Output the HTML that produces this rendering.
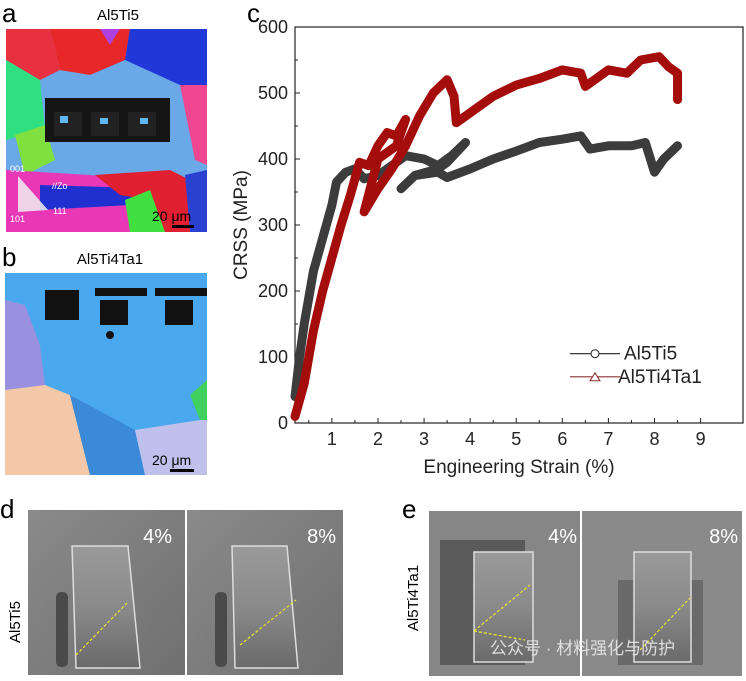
<!DOCTYPE html>
<html><head><meta charset="utf-8"><style>
body{margin:0;background:#fff;width:746px;height:681px;overflow:hidden;font-family:"Liberation Sans","Noto Sans CJK SC",sans-serif}
svg{position:absolute;left:0;top:0}
</style></head><body>
<svg width="746" height="681" viewBox="0 0 746 681">
<defs>
<linearGradient id="sem" x1="0" y1="0" x2="1" y2="1"><stop offset="0" stop-color="#8a8a8a"/><stop offset="1" stop-color="#707070"/></linearGradient>
<linearGradient id="pil" x1="0" y1="0" x2="0" y2="1"><stop offset="0" stop-color="#9a9a9a"/><stop offset="0.5" stop-color="#8a8a8a"/><stop offset="1" stop-color="#6a6a6a"/></linearGradient>
</defs>
<g>
<text x="2" y="22" font-size="26">a</text>
<text x="118" y="20" font-size="15" text-anchor="middle">Al5Ti5</text>
<rect x="6" y="29" width="201" height="203" fill="#6aa8e8"/>
<polygon points="6,29 50,29 60,70 40,80 6,60" fill="#e83040"/>
<polygon points="50,29 130,29 125,60 90,75 60,70" fill="#e82828"/>
<polygon points="130,29 207,29 207,85 180,85 125,60" fill="#2038d8"/>
<polygon points="100,29 120,29 110,45" fill="#b040e0"/>
<polygon points="6,60 40,80 45,130 6,140" fill="#30e080"/>
<polygon points="180,85 207,85 207,165 195,160" fill="#f04890"/>
<polygon points="15,135 45,125 55,160 25,175" fill="#80e040"/>
<polygon points="6,170 90,175 140,180 160,190 130,232 6,232" fill="#e838b8"/>
<polygon points="40,185 140,188 130,205 40,210" fill="#2030d0"/>
<polygon points="95,175 170,170 200,185 207,232 160,232 150,200 120,195" fill="#e02030"/>
<polygon points="125,200 150,190 165,232 130,232" fill="#40e040"/>
<polygon points="185,175 207,170 207,232 190,232" fill="#2a40d0"/>
<rect x="45" y="98" width="125" height="44" fill="#151515"/>
<rect x="54" y="112" width="28" height="24" fill="#222"/><rect x="60" y="116" width="8" height="7" fill="#60b8f0"/>
<rect x="91" y="112" width="28" height="24" fill="#222"/><rect x="100" y="118" width="8" height="6" fill="#60b8f0"/>
<rect x="128" y="112" width="28" height="24" fill="#222"/><rect x="140" y="118" width="8" height="6" fill="#60b8f0"/>
<polygon points="18,176 18,212 48,210" fill="#f0f0f0" opacity="0.85"/>
<text x="10" y="172" font-size="9" fill="#fff">001</text>
<text x="10" y="222" font-size="9" fill="#fff">101</text>
<text x="53" y="214" font-size="9" fill="#fff">111</text>
<text x="52" y="189" font-size="9" fill="#fff">//Zo</text>
<text x="152" y="221" font-size="14" fill="#000">20 μm</text>
<rect x="172" y="225" width="22" height="3" fill="#000"/>
</g>
<g>
<text x="2" y="266" font-size="26">b</text>
<text x="110" y="264" font-size="15" text-anchor="middle">Al5Ti4Ta1</text>
<rect x="5" y="273" width="202" height="202" fill="#4aa8ee"/>
<polygon points="5,300 25,305 40,345 45,385 5,390" fill="#9a90e0"/>
<polygon points="5,390 45,385 70,395 90,475 5,475" fill="#f2c8a8"/>
<polygon points="70,395 135,430 145,475 90,475" fill="#3a8ad8"/>
<polygon points="135,430 200,420 207,405 207,475 145,475" fill="#c0c0ec"/>
<polygon points="190,395 207,380 207,420 200,420" fill="#40d060"/>
<rect x="45" y="290" width="34" height="30" fill="#111"/><rect x="95" y="288" width="52" height="8" fill="#111"/><rect x="100" y="300" width="28" height="25" fill="#111"/>
<rect x="155" y="288" width="52" height="8" fill="#111"/><rect x="165" y="300" width="28" height="25" fill="#111"/>
<circle cx="110" cy="335" r="4" fill="#111"/>
<text x="152" y="465" font-size="14" fill="#000">20 μm</text>
<rect x="170" y="469" width="24" height="3" fill="#000"/>
</g>
<g>
<text x="0" y="518" font-size="26">d</text>
<text transform="translate(20,622) rotate(-90)" font-size="15" text-anchor="middle">Al5Ti5</text>
<g>
<rect x="28" y="510" width="157" height="165" fill="url(#sem)"/>
<rect x="56" y="592" width="12" height="75" rx="5" fill="#4a4a4a"/>
<polygon points="72,546 128,546 140,668 76,668" fill="url(#pil)" stroke="#ddd" stroke-width="1.5"/>
<line x1="76" y1="655" x2="128" y2="602" stroke="#e8e830" stroke-dasharray="3,2" stroke-width="1.2"/>
<text x="172" y="543" font-size="20" fill="#fff" text-anchor="end">4%</text>
</g>
<g>
<rect x="187" y="510" width="156" height="165" fill="url(#sem)"/>
<rect x="215" y="592" width="12" height="75" rx="5" fill="#4a4a4a"/>
<polygon points="232,546 287,546 298,668 235,668" fill="url(#pil)" stroke="#ddd" stroke-width="1.5"/>
<line x1="240" y1="645" x2="296" y2="600" stroke="#e8e830" stroke-dasharray="3,2" stroke-width="1.2"/>
<text x="336" y="543" font-size="20" fill="#fff" text-anchor="end">8%</text>
</g>
</g>
<g>
<text x="402" y="518" font-size="26">e</text>
<text transform="translate(418,598) rotate(-90)" font-size="15" text-anchor="middle">Al5Ti4Ta1</text>
<g>
<rect x="429" y="511" width="151" height="165" fill="#868686"/>
<rect x="440" y="540" width="85" height="125" fill="#5a5a5a"/>
<polygon points="474,552 533,552 533,662 474,662" fill="url(#pil)" stroke="#ddd" stroke-width="1.5"/>
<line x1="474" y1="631" x2="530" y2="585" stroke="#e8e830" stroke-dasharray="3,2" stroke-width="1.2"/>
<line x1="474" y1="631" x2="525" y2="640" stroke="#e8e830" stroke-dasharray="3,2" stroke-width="1.2"/>
<text x="577" y="543" font-size="20" fill="#fff" text-anchor="end">4%</text>
</g>
<g>
<rect x="582" y="511" width="160" height="165" fill="#8a8a8a"/>
<rect x="618" y="580" width="85" height="85" fill="#6a6a6a"/>
<polygon points="634,552 691,552 691,662 634,662" fill="url(#pil)" stroke="#ddd" stroke-width="1.5"/>
<line x1="640" y1="650" x2="690" y2="598" stroke="#e8e830" stroke-dasharray="3,2" stroke-width="1.2"/>
<text x="738" y="543" font-size="20" fill="#fff" text-anchor="end">8%</text>
</g>
<text x="490" y="654" font-size="17" fill="#e8e8e8" opacity="0.9">公众号 · 材料强化与防护</text>
</g>
<g id="chart">
<text x="247" y="22" font-size="26">c</text>
</g>
</svg>
<script>
const xTicks=[1,2,3,4,5,6,7,8,9];
const yTicks=[0,100,200,300,400,500,600];
const s1x=[0.2,0.3,0.4,0.6,0.8,1.0,1.1,1.3,1.5,1.7,2.0,2.3,2.6,3.0,3.3,3.6,3.9,3.5,3.3,2.8,2.5,2.8,3.3,3.5,4.0,4.5,5.0,5.5,6.0,6.4,6.6,7.0,7.5,7.8,8.0,8.2,8.5];
const s1y=[40,100,150,230,280,330,365,380,385,370,375,390,405,400,390,405,425,395,385,375,355,375,380,372,385,400,412,425,430,435,415,420,420,425,380,400,420];
const s2x=[0.2,0.4,0.6,0.8,1.0,1.2,1.4,1.6,1.8,2.0,2.2,2.4,2.6,2.4,2.0,1.7,2.0,2.3,2.6,2.9,3.2,3.5,3.65,3.7,4.0,4.5,5.0,5.5,6.0,6.4,6.5,7.0,7.4,7.7,8.1,8.3,8.5,8.5];
const s2y=[10,60,140,200,250,300,345,395,390,420,440,435,460,420,400,320,355,385,420,465,500,520,495,455,470,495,512,522,535,530,510,535,530,550,555,540,530,490];
const L=295,R=743,T=27,B=423,xmin=0.2,xmax=9.92;
const X=v=>L+(v-xmin)/(xmax-xmin)*(R-L);
const Y=v=>B-(v/600)*(B-T);
const g=document.getElementById('chart');
const NS='http://www.w3.org/2000/svg';
function mk(t,a){const e=document.createElementNS(NS,t);for(const k in a)e.setAttribute(k,a[k]);g.appendChild(e);return e;}
const frame=mk('rect',{x:L,y:T,width:R-L,height:B-T,fill:'none',stroke:'#222','stroke-width':1.2});


xTicks.forEach(v=>{
 mk('line',{x1:X(v),x2:X(v),y1:B,y2:B-5,stroke:'#222'});
 mk('line',{x1:X(v-0.5),x2:X(v-0.5),y1:B,y2:B-3,stroke:'#222'});
 const t=mk('text',{x:X(v),y:B+22,'font-size':18,'text-anchor':'middle',fill:'#222'});t.textContent=v;
 
 
});
yTicks.forEach(v=>{
 mk('line',{x1:L,x2:L+5,y1:Y(v),y2:Y(v),stroke:'#222'});
 if(v<600)mk('line',{x1:L,x2:L+3,y1:Y(v+50),y2:Y(v+50),stroke:'#222'});
 const t=mk('text',{x:L-7,y:Y(v)+6,'font-size':18,'text-anchor':'end',fill:'#222'});t.textContent=v;
 
 
});
const xt=mk('text',{x:519,y:473,'font-size':19,'text-anchor':'middle',fill:'#222'});xt.textContent='Engineering Strain (%)';


const yt=mk('text',{transform:'translate(247,225) rotate(-90)','font-size':19,'text-anchor':'middle',fill:'#222'});yt.textContent='CRSS (MPa)';


function series(xs,ys,col,name){
 const pts=xs.map((v,i)=>X(v)+','+Y(ys[i])).join(' ');
 const p=mk('polyline',{points:pts,fill:'none',stroke:col,'stroke-width':9,'stroke-linejoin':'round','stroke-linecap':'round'});
 
 
}
series(s1x,s1y,'#3c3c3c','series-al5ti5');
series(s2x,s2y,'#a50d0d','series-al5ti4ta1');
const lg=[['Al5Ti5','#222',Y(105)],['Al5Ti4Ta1','#8a3030',Y(70)]];
lg.forEach((d,i)=>{
 mk('line',{x1:570,x2:620,y1:d[2],y2:d[2],stroke:d[1],'stroke-width':1.2});
 if(i==0)mk('circle',{cx:595,cy:d[2],r:4,fill:'#fff',stroke:'#222'});
 else mk('polygon',{points:`590,${d[2]+4} 600,${d[2]+4} 595,${d[2]-4}`,fill:'#fff',stroke:'#8a3030'});
 const t=mk('text',{x:i==0?624:618,y:d[2]+6,'font-size':19,fill:'#222'});t.textContent=d[0];
 
 
});
</script>
</body></html>
